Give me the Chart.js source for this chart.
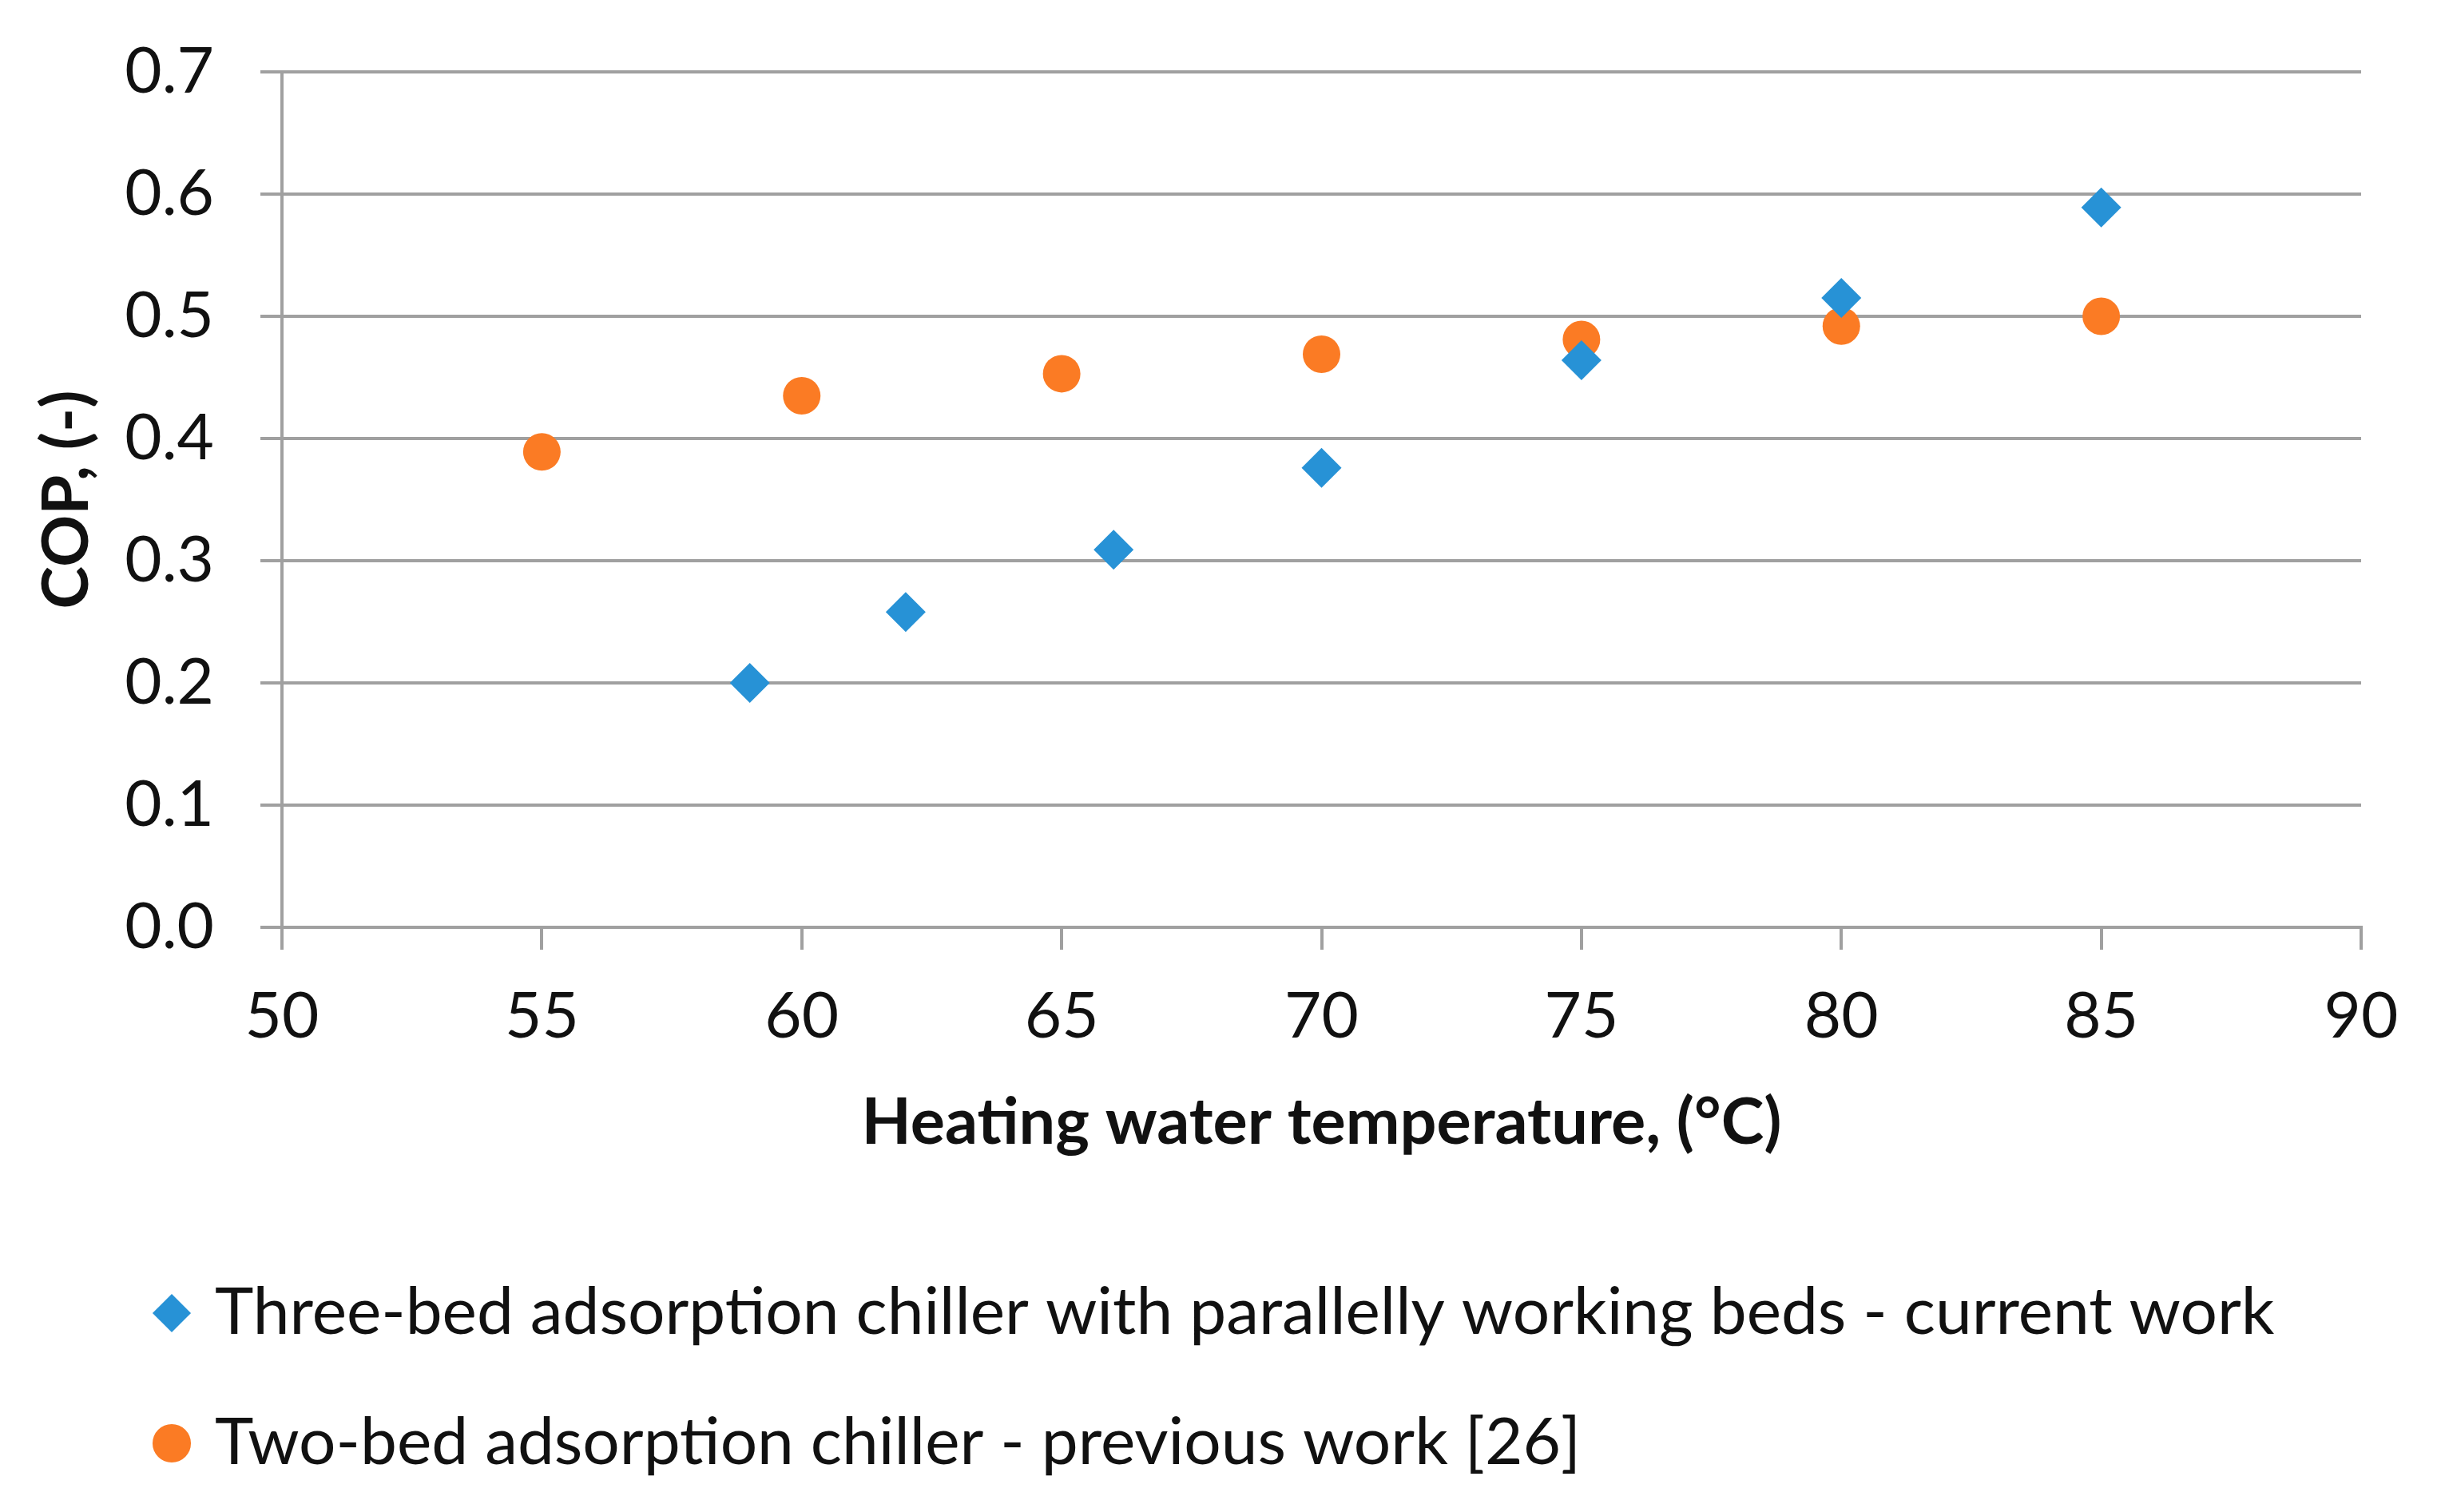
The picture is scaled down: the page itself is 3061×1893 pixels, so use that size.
<!DOCTYPE html>
<html>
<head>
<meta charset="utf-8">
<title>COP vs heating water temperature</title>
<script src="https://cdn.jsdelivr.net/npm/chart.js@4.4.1/dist/chart.umd.min.js"></script>
<style>
  html, body { margin: 0; padding: 0; background: #fff; }
  #wrap { width: 3061px; height: 1893px; }
</style>
</head>
<body>
<div id="wrap"><canvas id="cop-chart"></canvas></div>
<script>
// values
const threeBedTemps = [59, 62, 66, 70, 75, 80, 85];
const threeBedCop   = [0.200, 0.258, 0.309, 0.376, 0.464, 0.515, 0.589];
const twoBedTemps   = [55, 60, 65, 70, 75, 80, 85];
const twoBedCop     = [0.389, 0.435, 0.453, 0.469, 0.481, 0.492, 0.500];

const xTickLabels = ['50', '55', '60', '65', '70', '75', '80', '85', '90'];
const yTickLabels = ['0.0', '0.1', '0.2', '0.3', '0.4', '0.5', '0.6', '0.7'];

const seriesNames = [
  'Three-bed adsorption chiller with parallelly working beds - current work',
  'Two-bed adsorption chiller - previous work [26]',
];

const BLUE   = '#2792d6';
const ORANGE = '#fb7b24';
const GRID   = '#a0a0a0';
const TEXT   = '#111111';
const FONT   = 'Lato, "Open Sans", sans-serif';

const toPoints = (xs, ys) => xs.map((x, i) => ({ x, y: ys[i] }));

new Chart(document.getElementById('cop-chart'), {
  type: 'scatter',
  data: {
    datasets: [
      {
        label:           seriesNames[0],
        data:            toPoints(threeBedTemps, threeBedCop),
        pointStyle:      'rectRot',
        pointRadius:     25,
        backgroundColor: BLUE,
        borderColor:     BLUE,
        borderWidth:     0,
      },
      {
        label:           seriesNames[1],
        data:            toPoints(twoBedTemps, twoBedCop),
        pointStyle:      'circle',
        pointRadius:     23.5,
        backgroundColor: ORANGE,
        borderColor:     ORANGE,
        borderWidth:     0,
      },
    ],
  },
  options: {
    responsive: true,
    maintainAspectRatio: false,
    animation: false,
    layout: { padding: { left: 121, right: 105, top: 90, bottom: 35 } },
    plugins: {
      tooltip: { enabled: false },
      legend: {
        position: 'bottom',
        align: 'start',
        labels: {
          usePointStyle: true,
          boxWidth: 26,
          boxHeight: 34,
          padding: 81,
          color: TEXT,
          font: { family: FONT, size: 82 },
        },
      },
    },
    scales: {
      x: {
        type: 'linear',
        min: 50,
        max: 90,
        afterFit: s => { s.height = 361; },
        ticks: {
          stepSize: 5,
          padding: 36,
          color: TEXT,
          font: { family: FONT, size: 80 },
          callback: (v, i) => xTickLabels[i],
        },
        grid: { drawOnChartArea: false, tickLength: 28, color: GRID, lineWidth: 4 },
        border: { color: GRID, width: 4 },
        title: {
          display: true,
          text: 'Heating water temperature, (°C)',
          color: TEXT,
          font: { family: FONT, size: 81, weight: 'bold' },
          padding: { top: 0, bottom: 68 },
        },
      },
      y: {
        min: 0,
        max: 0.7,
        // fixed width; drop the label overhang so the plot top sits on the layout padding
        afterFit: s => { s.width = 232; s.paddingTop = 0; s.paddingBottom = 0; },
        ticks: {
          stepSize: 0.1,
          padding: 58,
          color: TEXT,
          font: { family: FONT, size: 80 },
          callback: (v, i) => yTickLabels[i],
        },
        grid: { tickLength: 27, color: GRID, lineWidth: 4 },
        border: { color: GRID, width: 4 },
        title: {
          display: true,
          text: 'COP, (-)',
          color: TEXT,
          font: { family: FONT, size: 81, weight: 'bold' },
          padding: { top: -86, bottom: 0 },
        },
      },
    },
  },
});
</script>
</body>
</html>
